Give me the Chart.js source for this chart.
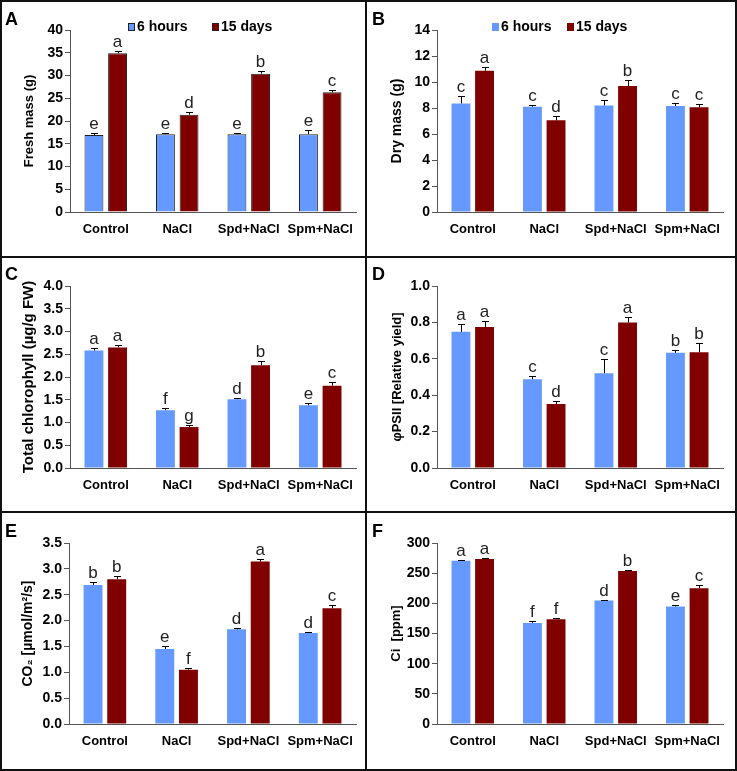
<!DOCTYPE html>
<html>
<head>
<meta charset="utf-8">
<script src="https://cdn.jsdelivr.net/npm/chart.js@4.4.1/dist/chart.umd.min.js"></script>
<style>
  body { margin: 0; background: #fff; }
  #fig { position: relative; width: 737px; height: 771px; overflow: hidden; }
  .panel { position: absolute; }
  .rule { position: absolute; background: #111; }
</style>
</head>
<body>
<div id="fig"></div>
<script>
// categories and series
const categories = ['Control', 'NaCl', 'Spd+NaCl', 'Spm+NaCl'];
const seriesNames = ['6 hours', '15 days'];

// A - fresh mass (g)
const freshMass6h = [16.9, 17.1, 17.1, 17.1];
const freshMass15d = [34.9, 21.4, 30.4, 26.3];
const freshMassErr6h = [0.5, 0.3, 0.2, 0.9];
const freshMassErr15d = [0.5, 0.6, 0.5, 0.5];
const freshMassLetters6h = ['e', 'e', 'e', 'e'];
const freshMassLetters15d = ['a', 'd', 'b', 'c'];

// B - dry mass (g)
const dryMass6h = [8.35, 8.1, 8.2, 8.15];
const dryMass15d = [10.87, 7.05, 9.69, 8.05];
const dryMassErr6h = [0.6, 0.15, 0.42, 0.22];
const dryMassErr15d = [0.3, 0.33, 0.46, 0.28];
const dryMassLetters6h = ['c', 'c', 'c', 'c'];
const dryMassLetters15d = ['a', 'd', 'b', 'c'];

// C - total chlorophyll
const chl6h = [2.58, 1.27, 1.51, 1.38];
const chl15d = [2.65, 0.90, 2.26, 1.81];
const chlErr6h = [0.06, 0.05, 0.02, 0.05];
const chlErr15d = [0.06, 0.04, 0.09, 0.08];
const chlLetters6h = ['a', 'f', 'd', 'e'];
const chlLetters15d = ['a', 'g', 'b', 'c'];

// D - phiPSII
const psii6h = [0.748, 0.488, 0.521, 0.633];
const psii15d = [0.775, 0.351, 0.799, 0.636];
const psiiErr6h = [0.045, 0.02, 0.077, 0.013];
const psiiErr15d = [0.034, 0.015, 0.03, 0.05];
const psiiLetters6h = ['a', 'c', 'c', 'b'];
const psiiLetters15d = ['a', 'd', 'a', 'b'];

// E - CO2 assimilation
const co26h = [2.69, 1.45, 1.83, 1.76];
const co215d = [2.80, 1.05, 3.14, 2.24];
const co2Err6h = [0.06, 0.05, 0.03, 0.02];
const co2Err15d = [0.06, 0.03, 0.05, 0.07];
const co2Letters6h = ['b', 'e', 'd', 'd'];
const co2Letters15d = ['b', 'f', 'a', 'c'];

// F - Ci
const ci6h = [270.6, 167.5, 204.8, 194.8];
const ci15d = [273.4, 173.8, 253.5, 225.2];
const ciErr6h = [1.7, 3.3, 1.1, 2.8];
const ciErr15d = [1.5, 1.2, 1.1, 4.4];
const ciLetters6h = ['a', 'f', 'd', 'e'];
const ciLetters15d = ['a', 'f', 'b', 'c'];

const BLUE = '#6699ff';
const RED = '#800000';
const FONT = 'Arial, "Liberation Sans", sans-serif';

// error bars, significance letters, panel letter and legend
const decorPlugin = {
  id: 'decor',
  afterDatasetsDraw(chart) {
    const ctx = chart.ctx;
    const y = chart.scales.y;
    chart.data.datasets.forEach((ds, di) => {
      chart.getDatasetMeta(di).data.forEach((bar, i) => {
        const top = Math.round(y.getPixelForValue(ds.data[i] + ds.errors[i])) + 0.5;
        const x = Math.round(bar.x) + 0.5;
        ctx.save();
        ctx.strokeStyle = '#000';
        ctx.lineWidth = 1;
        ctx.beginPath();
        ctx.moveTo(x, bar.y);
        ctx.lineTo(x, top);
        ctx.moveTo(x - 3.5, top);
        ctx.lineTo(x + 3.5, top);
        ctx.stroke();
        ctx.fillStyle = '#222';
        ctx.font = '17px ' + FONT;
        ctx.textAlign = 'center';
        ctx.textBaseline = 'alphabetic';
        ctx.fillText(ds.letters[i], bar.x, top - 5);
        ctx.restore();
      });
    });
  },
  afterDraw(chart, args, opts) {
    const ctx = chart.ctx;
    ctx.save();
    ctx.fillStyle = '#000';
    ctx.font = 'bold 18px ' + FONT;
    ctx.textBaseline = 'alphabetic';
    ctx.textAlign = 'left';
    ctx.fillText(opts.letter, 5, opts.letterY);
    if (opts.legend) {
      ctx.font = 'bold 14px ' + FONT;
      ctx.textBaseline = 'middle';
      chart.data.datasets.forEach((ds, di) => {
        const tx = opts.legend[di];
        ctx.fillStyle = ds.backgroundColor;
        ctx.fillRect(tx - 9, 23, 7, 8);
        if (ds.borderWidth) {
          ctx.strokeStyle = '#222';
          ctx.lineWidth = 1;
          ctx.strokeRect(tx - 8.5, 23.5, 6, 7);
        }
        ctx.fillStyle = '#000';
        ctx.fillText(ds.label, tx, 27.5);
      });
    }
    ctx.restore();
  }
};

const fig = document.getElementById('fig');

function makePanel(p) {
  const wrap = document.createElement('div');
  wrap.className = 'panel';
  wrap.style.left = p.left + 'px';
  wrap.style.top = p.top + 'px';
  const canvas = document.createElement('canvas');
  canvas.width = p.w;
  canvas.height = p.h;
  canvas.style.width = p.w + 'px';
  canvas.style.height = p.h + 'px';
  wrap.appendChild(canvas);
  fig.appendChild(wrap);

  const yW = 50, xH = 30;
  const bw = p.outlined ? 1 : 0;
  new Chart(canvas, {
    type: 'bar',
    data: {
      labels: categories,
      datasets: [
        { label: seriesNames[0], data: p.v1, errors: p.e1, letters: p.l1,
          backgroundColor: BLUE, borderColor: '#222', borderWidth: bw, borderSkipped: 'bottom' },
        { label: seriesNames[1], data: p.v2, errors: p.e2, letters: p.l2,
          backgroundColor: RED, borderColor: '#222', borderWidth: bw, borderSkipped: 'bottom' }
      ]
    },
    options: {
      responsive: false,
      animation: false,
      devicePixelRatio: 1,
      categoryPercentage: 0.66,
      barPercentage: 0.8,
      layout: {
        padding: {
          left: p.area[0] - p.left - yW,
          right: p.left + p.w - p.area[1],
          top: p.area[2] - p.top,
          bottom: p.top + p.h - p.area[3] - xH
        }
      },
      plugins: {
        legend: { display: false },
        tooltip: { enabled: false },
        decor: { letter: p.letter, letterY: p.letterY, legend: p.legend }
      },
      scales: {
        x: {
          grid: { display: false, drawTicks: false },
          border: { display: true, color: '#555', width: 1 },
          ticks: { color: '#000', font: { family: FONT, size: 13, weight: 'bold' }, padding: 10, maxRotation: 0 },
          afterFit(s) { s.height = xH; }
        },
        y: {
          min: 0,
          max: p.max,
          grid: { drawOnChartArea: false, drawTicks: true, tickLength: 5, color: '#555' },
          border: { display: true, color: '#555', width: 1 },
          ticks: {
            stepSize: p.step,
            color: '#000',
            padding: 2,
            font: { family: FONT, size: 14, weight: 'bold' },
            callback: v => v.toFixed(p.dec)
          },
          title: {
            display: true,
            text: p.title,
            color: '#000',
            font: { family: FONT, size: p.titleSize, weight: 'bold' },
            padding: { top: p.titlePad, bottom: 0 }
          },
          afterFit(s) { s.width = yW; }
        }
      }
    },
    plugins: [decorPlugin]
  });
}

const panels = [
  { letter: 'A', left: 0, top: 0, w: 366, h: 257, area: [70, 356, 30, 212], letterY: 25,
    v1: freshMass6h, v2: freshMass15d, e1: freshMassErr6h, e2: freshMassErr15d,
    l1: freshMassLetters6h, l2: freshMassLetters15d, max: 40, step: 5, dec: 0,
    title: 'Fresh mass (g)', titleSize: 13, titlePad: 2, outlined: true, legend: [137, 221] },
  { letter: 'B', left: 367, top: 0, w: 370, h: 257, area: [437, 723, 30, 212], letterY: 25,
    v1: dryMass6h, v2: dryMass15d, e1: dryMassErr6h, e2: dryMassErr15d,
    l1: dryMassLetters6h, l2: dryMassLetters15d, max: 14, step: 2, dec: 0,
    title: 'Dry mass (g)', titleSize: 14, titlePad: 2, legend: [134, 209] },
  { letter: 'C', left: 0, top: 257, w: 366, h: 255, area: [70, 356, 286, 468], letterY: 23,
    v1: chl6h, v2: chl15d, e1: chlErr6h, e2: chlErr15d,
    l1: chlLetters6h, l2: chlLetters15d, max: 4, step: 0.5, dec: 1,
    title: 'Total chlorophyll (\u00b5g/g FW)', titleSize: 15, titlePad: 0 },
  { letter: 'D', left: 367, top: 257, w: 370, h: 255, area: [437, 723, 286, 468], letterY: 23,
    v1: psii6h, v2: psii15d, e1: psiiErr6h, e2: psiiErr15d,
    l1: psiiLetters6h, l2: psiiLetters15d, max: 1, step: 0.2, dec: 1,
    title: '\u03c6PSII [Relative yield]', titleSize: 13, titlePad: 3 },
  { letter: 'E', left: 0, top: 512, w: 366, h: 259, area: [69, 356, 543, 724], letterY: 25,
    v1: co26h, v2: co215d, e1: co2Err6h, e2: co2Err15d,
    l1: co2Letters6h, l2: co2Letters15d, max: 3.5, step: 0.5, dec: 1,
    title: 'CO\u2082 [\u00b5mol/m\u00b2/s]', titleSize: 14, titlePad: 1 },
  { letter: 'F', left: 367, top: 512, w: 370, h: 259, area: [437, 723, 543, 724], letterY: 25,
    v1: ci6h, v2: ci15d, e1: ciErr6h, e2: ciErr15d,
    l1: ciLetters6h, l2: ciLetters15d, max: 300, step: 50, dec: 0,
    title: 'Ci  [ppm]', titleSize: 13, titlePad: 2 }
];

panels.forEach(makePanel);

// frame rules
[
  [0, 0, 737, 2], [0, 769, 737, 2], [0, 0, 2, 771], [735, 0, 2, 771],
  [365, 0, 2, 771], [0, 256, 737, 2], [0, 511, 737, 2]
].forEach(([l, t, w, h]) => {
  const d = document.createElement('div');
  d.className = 'rule';
  d.style.left = l + 'px';
  d.style.top = t + 'px';
  d.style.width = w + 'px';
  d.style.height = h + 'px';
  fig.appendChild(d);
});
</script>
</body>
</html>
